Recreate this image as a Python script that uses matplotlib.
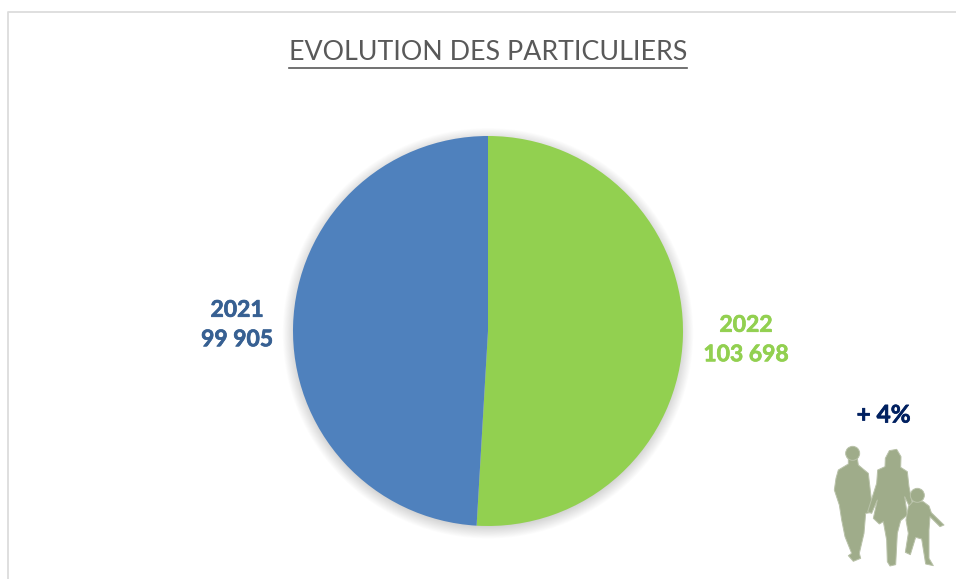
import matplotlib
matplotlib.use('Agg')
import matplotlib.pyplot as plt
import matplotlib.patheffects as pe
from matplotlib.patches import Circle, Polygon
import numpy as np

plt.rcParams['font.family'] = ['Lato', 'DejaVu Sans']

# data
years = ['2022', '2021']
values = [103698, 99905]
value_labels = ['103 698', '99 905']
colors = ['#92D050', '#4F81BD']
label_colors = ['#92D050', '#376092']
title = 'EVOLUTION DES PARTICULIERS'
growth = '+ 4%'

W, H = 956, 579
fig = plt.figure(figsize=(W / 100, H / 100), dpi=100, facecolor='white')

# calque en pixels pour le cadre, les textes et la silhouette
bg = fig.add_axes([0, 0, 1, 1])
bg.set_xlim(0, W)
bg.set_ylim(H, 0)
bg.axis('off')
bg.plot([8, 8, W], [H, 12, 12], color='#DCDCDC', lw=1.3, zorder=1)

# camembert
cx, cy, r = 488, 331, 195
ax = fig.add_axes([(cx - r) / W, 1 - (cy + r) / H, 2 * r / W, 2 * r / H])
ax.patch.set_visible(False)
ax.pie(values, colors=colors, startangle=90, counterclock=False, radius=1)
ax.set_xlim(-1, 1)
ax.set_ylim(-1, 1)

# ombre douce sous le camembert
for k in np.arange(1, 16):
    sh = Circle((0, -0.012), 0.985 + 0.0045 * k, color='black', alpha=0.012,
                lw=0, zorder=0, clip_on=False)
    ax.add_patch(sh)

# etiquettes (gras epaissi, le Lato est plus fin que l'original)
for x, y, i in [(237, 325, 1), (746, 340, 0)]:
    bg.text(x, y, f'{years[i]}\n{value_labels[i]}', color=label_colors[i], fontsize=16.5,
            fontweight='bold', ha='center', va='center', linespacing=1.5,
            path_effects=[pe.withStroke(linewidth=0.5, foreground=label_colors[i])])

# titre souligne
t = bg.text(488, 53, title, color='#595959', fontsize=19.3, ha='center', va='center')
fig.canvas.draw()
bb = t.get_window_extent()
bg.plot([bb.x0, bb.x1], [67.5, 67.5], color='#595959', lw=1.2)

bg.text(883.5, 415, growth, color='#002060', fontsize=17.5, fontweight='bold',
        ha='center', va='center',
        path_effects=[pe.withStroke(linewidth=0.5, foreground='#002060')])


# silhouette de la famille (coordonnees du zoom x3)
def zoomed(points):
    return [(800 + x / 3, 390 + y / 3) for x, y in points]


man = [(145, 205), (145, 222), (115, 240), (108, 265), (103, 300), (118, 345), (125, 390),
       (135, 440), (155, 490), (145, 497), (160, 514), (182, 505), (178, 490),
       (192, 430), (197, 370), (212, 368), (216, 345), (205, 250), (175, 225),
       (172, 205)]
woman = [(256, 205), (268, 182), (290, 178), (303, 200), (302, 232), (322, 245),
         (327, 290), (337, 340), (327, 347), (314, 320), (322, 375), (302, 392),
         (292, 430), (287, 524), (270, 528), (262, 515), (260, 450), (250, 395),
         (238, 402), (220, 385), (232, 330), (215, 370), (203, 365), (230, 280),
         (233, 240), (255, 230)]
child = [(338, 335), (325, 350), (318, 390), (325, 430), (316, 487), (331, 494),
         (347, 442), (365, 447), (377, 522), (400, 527), (387, 505), (387, 420),
         (390, 380), (420, 410), (432, 405), (394, 368), (387, 348), (370, 335)]
fig_color = '#9FAC8A'
for part in (man, woman, child):
    bg.add_patch(Polygon(zoomed(part), closed=True, fc=fig_color, ec='#B9C2A9', lw=0.7,
                         joinstyle='round', zorder=2))
for hx, hy, hr in [(158, 190, 21), (352, 316, 21)]:
    px, py = zoomed([(hx, hy)])[0]
    bg.add_patch(Circle((px, py), hr / 3, fc=fig_color, ec='#B9C2A9', lw=0.7, zorder=2))

fig.savefig('out.png', dpi=100)
